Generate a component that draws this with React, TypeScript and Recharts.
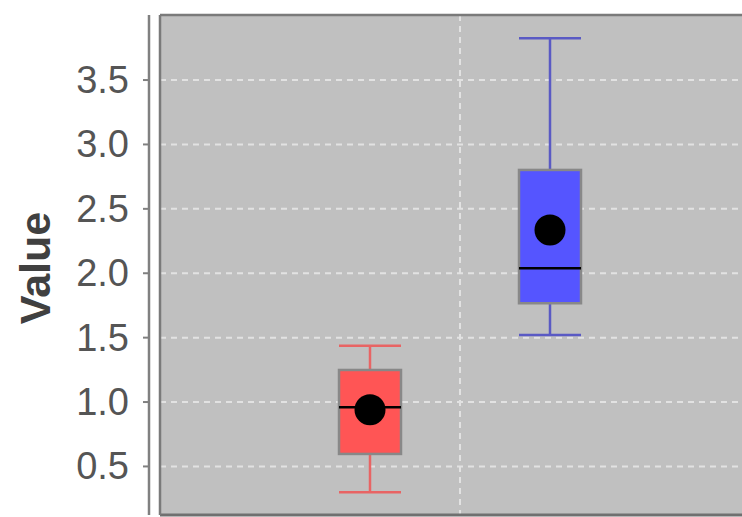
import React from 'react';
import { ComposedChart, Bar, XAxis, YAxis, CartesianGrid, Label } from 'recharts';

const categories = ['Category 1'];
const seriesNames = ['Series 1', 'Series 2'];
const seriesColors = ['#ff5555', '#5555ff'];
const whiskerColors = ['#e86464', '#5a5ac4'];
const minValues = [0.3, 1.52];
const q1Values = [0.597, 1.767];
const medianValues = [0.96, 2.039];
const meanValues = [0.94, 2.336];
const q3Values = [1.249, 2.802];
const maxValues = [1.438, 3.824];
const yTicks = [0.5, 1.0, 1.5, 2.0, 2.5, 3.0, 3.5];
const yDomain: [number, number] = [0.123, 4.005];

const data = categories.map((c) => {
  const row: any = { category: c };
  seriesNames.forEach((_s, i) => {
    row['s' + i] = [q1Values[i], q3Values[i]];
  });
  return row;
});

const makeBoxShape = (i: number) => (props: any) => {
  const { x, y, width, height } = props;
  if (x == null || y == null) return null;
  const top = Math.min(y, y + height);
  const bottom = Math.max(y, y + height);
  const ppu = (bottom - top) / (q3Values[i] - q1Values[i]);
  const toY = (v: number) => top + (q3Values[i] - v) * ppu;
  const cx = x + width / 2;
  const wc = whiskerColors[i];
  return (
    <g>
      <line x1={cx} x2={cx} y1={toY(maxValues[i])} y2={top} stroke={wc} strokeWidth={2.5} />
      <line x1={cx} x2={cx} y1={bottom} y2={toY(minValues[i])} stroke={wc} strokeWidth={2.5} />
      <line x1={x} x2={x + width} y1={toY(maxValues[i])} y2={toY(maxValues[i])} stroke={wc} strokeWidth={2.5} />
      <line x1={x} x2={x + width} y1={toY(minValues[i])} y2={toY(minValues[i])} stroke={wc} strokeWidth={2.5} />
      <rect x={x} y={top} width={width} height={bottom - top} fill={seriesColors[i]} stroke="#888888" strokeWidth={2.5} />
      <line x1={x} x2={x + width} y1={toY(medianValues[i])} y2={toY(medianValues[i])} stroke="#000000" strokeWidth={2.5} />
      <circle cx={cx} cy={toY(meanValues[i])} r={width / 4} fill="#000000" />
    </g>
  );
};

const TickLabel = (props: any) => {
  const { x, y, payload } = props;
  return (
    <text
      x={x}
      y={y}
      textAnchor="end"
      dominantBaseline="central"
      fontFamily="'Liberation Sans', Arial, sans-serif"
      fontSize={38}
      fill="#555555"
    >
      {Number(payload.value).toFixed(1)}
    </text>
  );
};

const NoTick = () => <g />;

export default function App() {
  return (
    <div style={{ position: 'absolute', left: 0, top: 0, width: 742, height: 517, overflow: 'hidden', background: '#ffffff' }}>
      <ComposedChart
        width={800}
        height={540}
        data={data}
        margin={{ top: 14, right: 40, bottom: 24, left: 0 }}
        barGap={118}
        barSize={62}
      >
        <CartesianGrid
          xAxisId="bottom"
          yAxisId="outer"
          fill="#c0c0c0"
          stroke="#e2e2e2"
          strokeWidth={2}
          strokeDasharray="6 5"
        />
        <XAxis
          xAxisId="bottom"
          dataKey="category"
          orientation="bottom"
          height={1}
          tick={NoTick}
          tickLine={false}
          axisLine={{ stroke: '#707070', strokeWidth: 3 }}
        />
        <XAxis
          xAxisId="top"
          dataKey="category"
          orientation="top"
          height={1}
          tick={NoTick}
          tickLine={false}
          axisLine={{ stroke: '#7a7a7a', strokeWidth: 2.5 }}
        />
        <YAxis
          yAxisId="inner"
          orientation="left"
          width={11}
          domain={yDomain}
          allowDataOverflow
          ticks={yTicks}
          tick={false}
          tickLine={false}
          axisLine={{ stroke: '#7a7a7a', strokeWidth: 2.5 }}
        />
        <YAxis
          yAxisId="outer"
          orientation="left"
          width={149}
          domain={yDomain}
          allowDataOverflow
          ticks={yTicks}
          tick={<TickLabel />}
          tickSize={6}
          tickMargin={14}
          tickLine={{ stroke: '#808080', strokeWidth: 2 }}
          axisLine={{ stroke: '#808080', strokeWidth: 2.5 }}
        >
          <Label
            value="Value"
            angle={-90}
            position="center"
            dx={-40}
            dy={3}
            style={{ fontFamily: "'Liberation Sans', Arial, sans-serif", fontSize: 43, fontWeight: 'bold', fill: '#404040' }}
          />
        </YAxis>
        {seriesNames.map((s, i) => (
          <Bar
            key={s}
            name={s}
            dataKey={'s' + i}
            xAxisId="bottom"
            yAxisId="outer"
            fill={seriesColors[i]}
            shape={makeBoxShape(i)}
            isAnimationActive={false}
          />
        ))}
      </ComposedChart>
    </div>
  );
}
